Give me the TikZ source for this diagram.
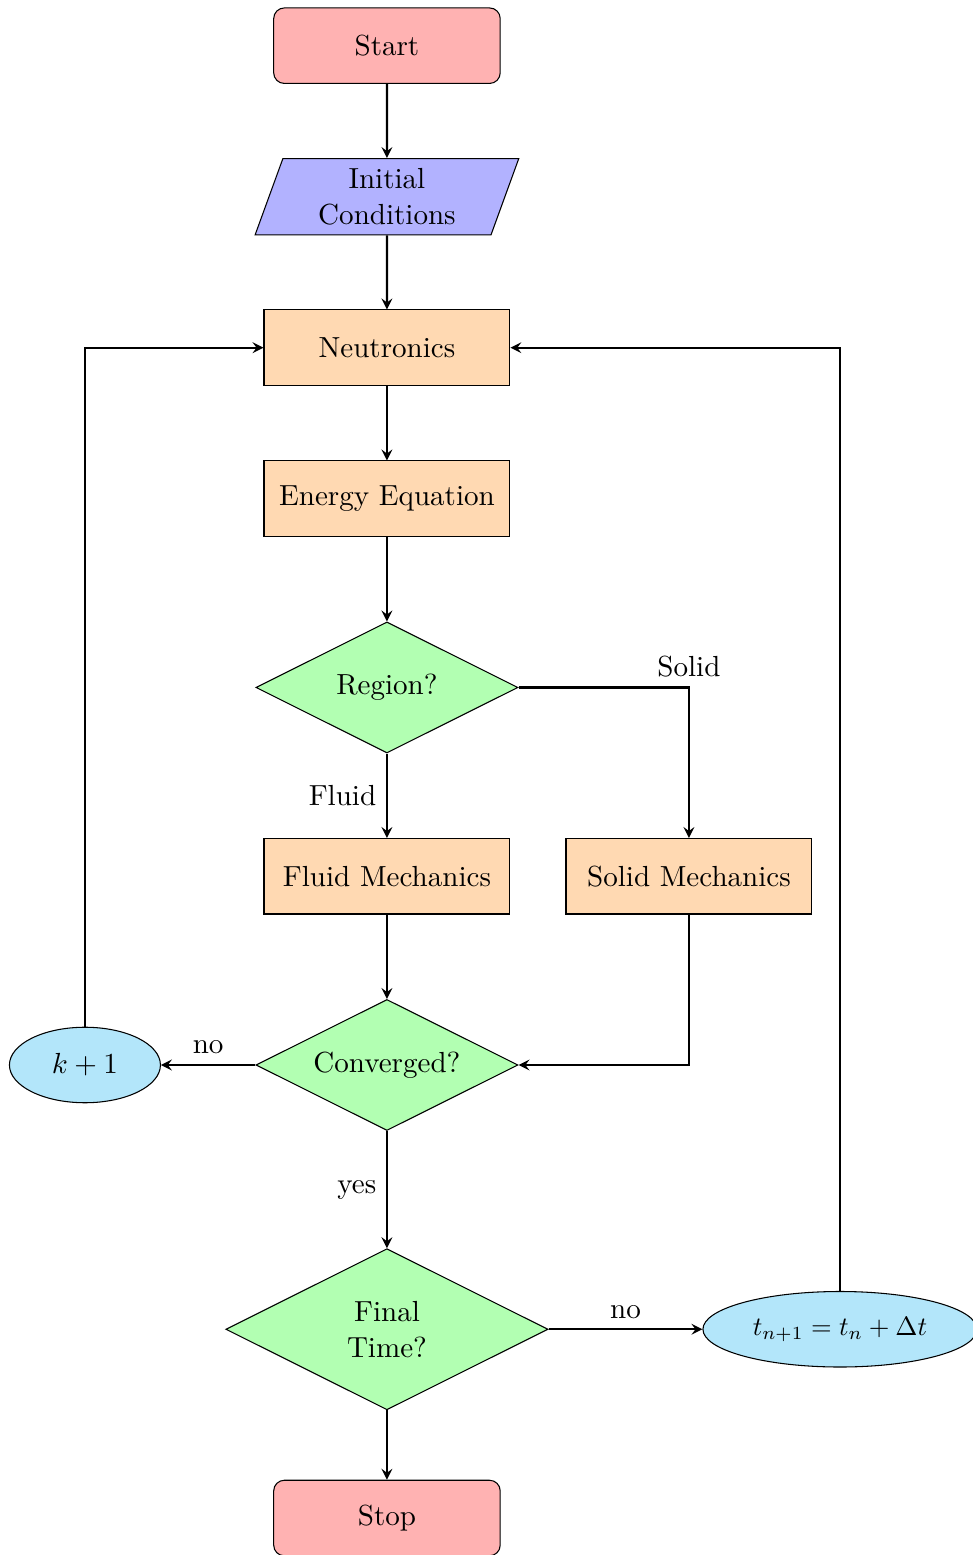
\documentclass[tikz,border=0pt,11pt]{standalone}
\usepackage{tikz}
\usetikzlibrary{shapes.geometric,arrows}

\tikzset{
  startstop/.style={rectangle, rounded corners, minimum width=3cm, minimum height=1cm, text centered, draw=black, fill=red!30},
  io/.style={trapezium, trapezium left angle=70, trapezium right angle=110, minimum width=3cm, minimum height=1cm, text width=2.5cm, align=center, draw=black, fill=blue!30},
  process/.style={rectangle, minimum width=3cm, minimum height=1cm, text width=3cm, align=center, draw=black, fill=orange!30},
  decision/.style={diamond, aspect=2, text width=2cm, align=center, draw=black, fill=green!30},
  counter/.style={ellipse, minimum width=2cm, minimum height=1cm, draw=black, fill=cyan!30},
  arrow/.style={thick,->,>=stealth}
}

\begin{document}
\begin{tikzpicture}
\useasboundingbox (-5.125cm,0.605cm) rectangle (7.75cm,-19.99cm);

\node[startstop] (start) at (0cm,0cm) {Start};
\node[io] (init) at (0cm,-2cm) {Initial Conditions};
\node[process] (neutr) at (0cm,-4cm) {Neutronics};
\node[process] (energy) at (0cm,-6cm) {Energy Equation};
\node[decision] (region) at (0cm,-8.5cm) {Region?};
\node[process] (fluid) at (0cm,-11cm) {Fluid Mechanics};
\node[process] (solid) at (4cm,-11cm) {Solid Mechanics};
\node[decision] (conv) at (0cm,-13.5cm) {Converged?};
\node[counter] (iter) at (-4cm,-13.5cm) {$k+1$};
\node[decision] (final) at (0cm,-17cm) {Final Time?};
\node[counter, font=\small] (tstep) at (6cm,-17cm) {$t_{n+1}=t_n+\Delta t$};
\node[startstop] (stop) at (0cm,-19.5cm) {Stop};

\draw[arrow] (start) -- (init);
\draw[arrow] (init) -- (neutr);
\draw[arrow] (neutr) -- (energy);
\draw[arrow] (energy) -- (region);
\draw[arrow] (region) -- node[left] {Fluid} (fluid);
\draw[arrow] (region) -| node[above] {Solid} (solid);
\draw[arrow] (fluid) -- (conv);
\draw[arrow] (solid) |- (conv);
\draw[arrow] (conv) -- node[above] {no} (iter);
\draw[arrow] (iter) |- (neutr);
\draw[arrow] (conv) -- node[left] {yes} (final);
\draw[arrow] (final) -- node[above] {no} (tstep);
\draw[arrow] (tstep) |- (neutr);
\draw[arrow] (final) -- (stop);
\end{tikzpicture}
\end{document}
